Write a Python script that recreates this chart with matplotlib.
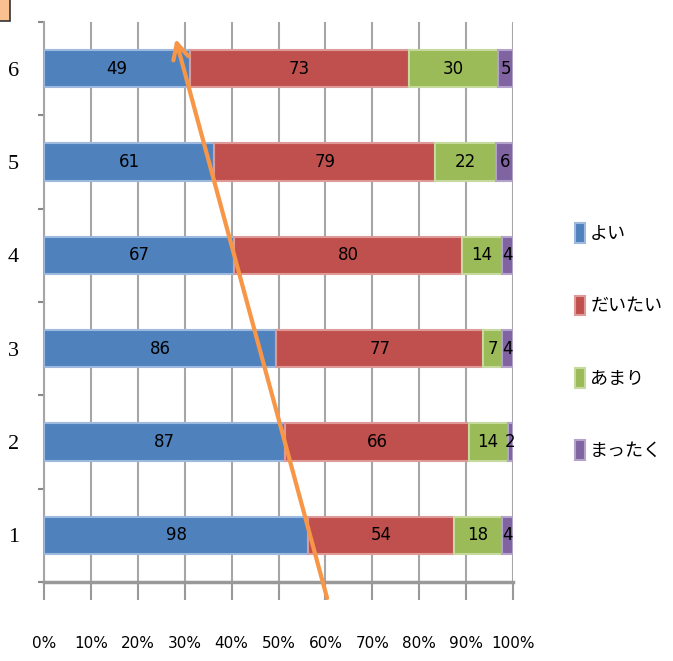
import numpy as np
import matplotlib
matplotlib.use("Agg")
import matplotlib.pyplot as plt
from matplotlib.patches import Rectangle

categories = ["1", "2", "3", "4", "5", "6"]
series_names = ["よい", "だいたい", "あまり", "まったく"]
yoi = [98, 87, 86, 67, 61, 49]
daitai = [54, 66, 77, 80, 79, 73]
amari = [18, 14, 7, 14, 22, 30]
mattaku = [4, 2, 4, 4, 6, 5]
tick_labels = ["0%", "10%", "20%", "30%", "40%", "50%", "60%", "70%", "80%", "90%", "100%"]
colors = ["#4F81BD", "#C0504D", "#9BBB59", "#8064A2"]
edge_colors = ["#9DB9DE", "#DE9A98", "#C6DA9E", "#B3A2C9"]

# arrow annotation (percent, category position)
arrow_tail = (60.5, 0.30)
arrow_head = (27.9, 6.35)

plt.rcParams['font.family'] = ['Noto Sans CJK JP', 'DejaVu Sans']

fig = plt.figure(figsize=(6.73, 6.61), dpi=100)
ax = fig.add_axes([0.0654, 0.1195, 0.697, 0.847])

data = np.array([yoi, daitai, amari, mattaku], dtype=float)
totals = data.sum(axis=0)
pct = data / totals * 100
y = np.arange(1, len(categories) + 1)

left = np.zeros(len(categories))
for i, name in enumerate(series_names):
    bars = ax.barh(y, pct[i], left=left, height=0.40, color=colors[i],
                   edgecolor=edge_colors[i], linewidth=1.5, label=name, zorder=3)
    ax.bar_label(bars, labels=[str(int(v)) for v in data[i]], label_type='center',
                 fontsize=12, family=['DejaVu Sans'], color='black')
    left += pct[i]

ax.set_xlim(0, 100)
ax.set_ylim(0.5, 6.5)
ax.set_xticks(np.arange(0, 101, 10))
ax.set_xticklabels(tick_labels, fontsize=11, family=['DejaVu Sans'])
ax.set_yticks(y)
ax.set_yticklabels(categories, fontsize=16, family=['Liberation Serif', 'DejaVu Serif'])
ax.set_yticks(np.arange(0.5, 6.6, 1.0), minor=True)
ax.tick_params(axis='y', which='major', length=0, pad=18)
ax.tick_params(axis='y', which='minor', length=4, color='#888888', width=1.5, direction='out')
ax.tick_params(axis='x', which='major', length=13, color='#999999', width=1.5, pad=26)

ax.grid(axis='x', color='#A6A6A6', linewidth=1.5, zorder=0)
ax.set_axisbelow(True)
for s in ['top', 'right']:
    ax.spines[s].set_visible(False)
ax.spines['left'].set_color('#A6A6A6')
ax.spines['left'].set_linewidth(1.5)
ax.spines['bottom'].set_color('#999999')
ax.spines['bottom'].set_linewidth(2.5)

ax.annotate('', xy=arrow_head, xytext=arrow_tail,
            arrowprops=dict(arrowstyle='->', color='#F79646', lw=3, mutation_scale=28),
            annotation_clip=False, zorder=5)

leg = fig.legend(loc='center left', bbox_to_anchor=(0.83, 0.483), frameon=False,
                 fontsize=13, handlelength=0.55, handleheight=1.3, handletextpad=0.3,
                 labelspacing=2.9)

fig.patches.append(Rectangle((-0.01, 0.968), 0.025, 0.035, transform=fig.transFigure,
                             facecolor='#FAC090', edgecolor='#333333', linewidth=1.2))

fig.savefig("out.png", dpi=100)
